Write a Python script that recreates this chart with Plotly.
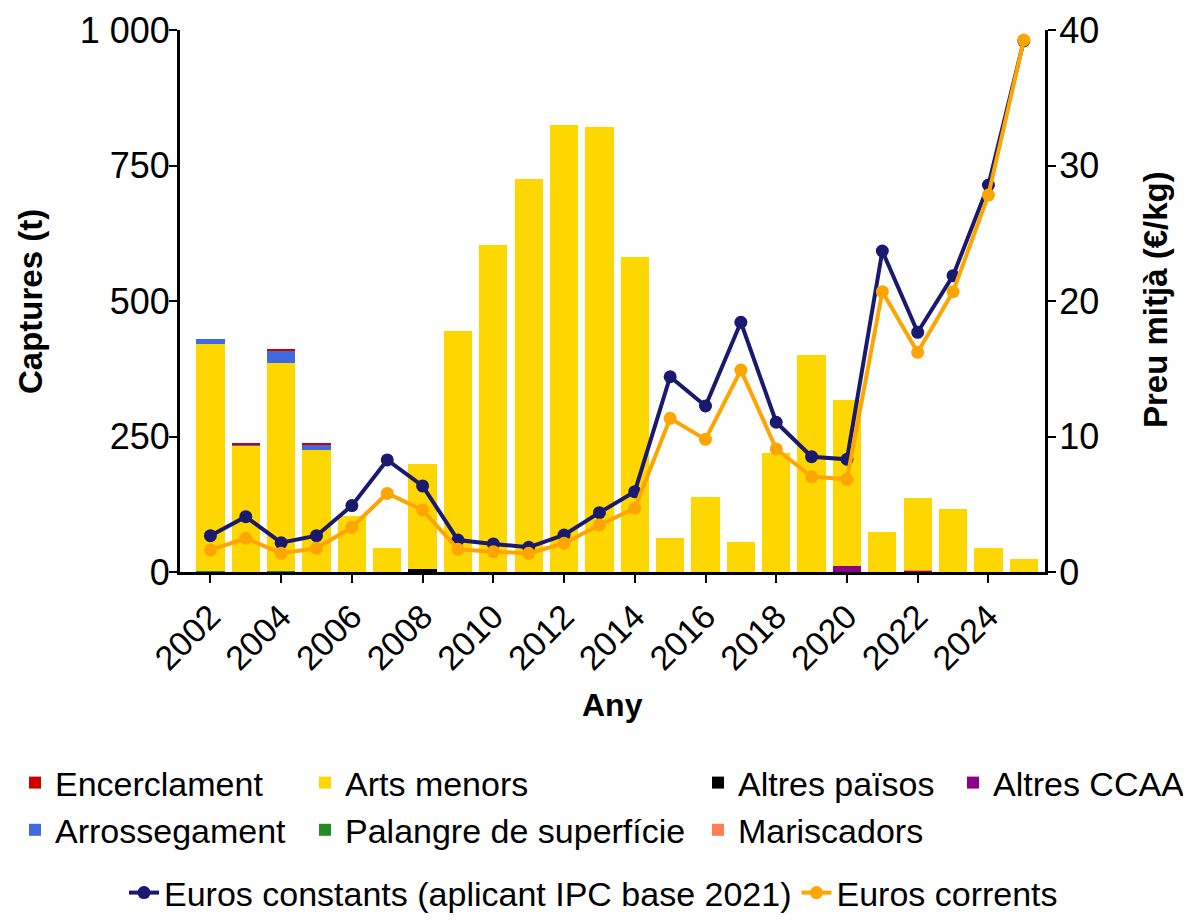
import plotly.graph_objects as go

years = list(range(2002, 2026))

encerclament = [0, 2, 4, 2, 0, 0, 0, 0, 0, 0, 0, 0, 0, 0, 0, 0, 0, 0, 0, 0, 0, 0, 0, 0]
arrossegament = [9, 3, 22, 9, 0, 0, 0, 0, 0, 0, 0, 0, 0, 0, 0, 0, 0, 0, 0, 0, 0, 0, 0, 0]
arts_menors = [419, 233, 384, 226, 103, 44, 193, 445, 603, 726, 825, 821, 581, 62, 139, 55, 220, 400, 306, 74, 133, 117, 44, 24]
palangre = [2, 0, 2, 0, 0, 0, 0, 0, 0, 0, 0, 0, 0, 0, 0, 0, 0, 0, 0, 0, 0, 0, 0, 0]
altres_paisos = [0, 0, 0, 0, 0, 0, 6, 0, 0, 0, 0, 0, 0, 0, 0, 0, 0, 0, 0, 0, 0, 0, 0, 0]
mariscadors = [0, 0, 0, 0, 0, 0, 0, 0, 0, 0, 0, 0, 0, 0, 0, 0, 0, 0, 0, 0, 1, 0, 0, 0]
altres_ccaa = [0, 0, 0, 0, 0, 0, 0, 0, 0, 0, 0, 0, 0, 0, 0, 0, 0, 0, 11, 0, 2, 0, 0, 0]

euros_constants = [2.68, 4.08, 2.16, 2.68, 4.90, 8.27, 6.35, 2.36, 2.07, 1.82, 2.73, 4.38, 5.93,
                   14.41, 12.25, 18.43, 11.05, 8.51, 8.32, 23.69, 17.69, 21.87, 28.56, 39.20]
euros_corrents = [1.62, 2.49, 1.38, 1.75, 3.30, 5.80, 4.58, 1.67, 1.50, 1.38, 2.12, 3.47, 4.70,
                  11.34, 9.79, 14.90, 9.08, 7.04, 6.84, 20.69, 16.21, 20.69, 27.82, 39.26]

x_ticks = list(range(2002, 2025, 2))
y_ticks = [0, 250, 500, 750, 1000]
y2_ticks = [0, 10, 20, 30, 40]

FONT = "Arial, Liberation Sans, sans-serif"
# page body has an 8px margin, so the figure is drawn 8px in from the window corner
W, H = 1183, 912
OFF = 8

fig = go.Figure()

# stacking order bottom -> top ; legend placement via separate legends (columns)
bar_series = [
    ("Palangre de superfície", palangre, "#228B22", "legend2", 2),
    ("Altres països", altres_paisos, "#000000", "legend3", 1),
    ("Altres CCAA", altres_ccaa, "#8B008B", "legend4", 1),
    ("Mariscadors", mariscadors, "#FF7F50", "legend3", 2),
    ("Arts menors", arts_menors, "#FFD700", "legend2", 1),
    ("Arrossegament", arrossegament, "#4169E1", "legend", 2),
    ("Encerclament", encerclament, "#CC0000", "legend", 1),
]
for name, vals, col, leg, rank in bar_series:
    fig.add_trace(go.Bar(
        x=years, y=vals, name=name, marker=dict(color=col, line=dict(width=0)),
        legend=leg, legendrank=rank, yaxis="y",
    ))

fig.add_trace(go.Scatter(
    x=years, y=euros_constants, name="Euros constants (aplicant IPC base 2021)",
    mode="lines+markers", line=dict(color="#191970", width=4),
    marker=dict(color="#191970", size=13), yaxis="y2", legend="legend5",
))
fig.add_trace(go.Scatter(
    x=years, y=euros_corrents, name="Euros corrents",
    mode="lines+markers", line=dict(color="#FFA500", width=4),
    marker=dict(color="#FFA500", size=13), yaxis="y2", legend="legend5",
))


def cx(px):
    return (px - OFF) / W


def cy(px):
    return 1 - (px - OFF) / H


def vleg(xpx, ypx):
    return dict(
        xref="container", yref="container", x=cx(xpx), y=cy(ypx),
        xanchor="left", yanchor="top", orientation="v", traceorder="normal",
        font=dict(family=FONT, size=34, color="black"),
        bgcolor="rgba(0,0,0,0)", tracegroupgap=0,
    )


axis_common = dict(
    ticks="outside", ticklen=8, tickwidth=2, tickcolor="black",
    showline=True, linewidth=3, linecolor="black", showgrid=False, zeroline=False,
    automargin=False,
)

# plot-area edges in figure pixels
L = 180 - OFF
R = 1045 - OFF
T = 30 - OFF
B = 572 - OFF


def px_(x):
    return ((x - OFF) - L) / (R - L)


def py(y):
    return (B - (y - OFF)) / (B - T)


fig.update_layout(
    width=W, height=H,
    paper_bgcolor="white", plot_bgcolor="white",
    barmode="stack", bargap=0.2,
    separators=". ",
    margin=dict(l=L, r=W - R, t=T, b=H - B, autoexpand=False),
    font=dict(family=FONT, size=32, color="black"),
    xaxis=dict(range=[2001.14, 2025.6], tickmode="array", tickvals=x_ticks, tickangle=-45,
               tickfont=dict(family=FONT, size=34, color="black"), **axis_common),
    yaxis=dict(range=[0, 1000], tickmode="array", tickvals=y_ticks, tickformat=",d",
               tickfont=dict(family=FONT, size=36, color="black"), ticklabelstandoff=-8, **axis_common),
    yaxis2=dict(range=[0, 40], overlaying="y", side="right", tickmode="array", tickvals=y2_ticks,
                tickfont=dict(family=FONT, size=36, color="black"), ticklabelstandoff=-4, **axis_common),
    legend=vleg(15, 754),
    legend2=vleg(305, 754),
    legend3=vleg(698, 754),
    legend4=vleg(953, 754),
    legend5=dict(
        xref="paper", yref="paper", x=px_(124), y=py(893),
        xanchor="left", yanchor="middle", orientation="h", traceorder="normal",
        font=dict(family=FONT, size=34, color="black"), bgcolor="rgba(0,0,0,0)",
        itemwidth=30,
    ),
    annotations=[
        dict(text="<b>Captures (t)</b>", xref="paper", yref="paper",
             x=px_(30), xanchor="center",
             y=py(302), yanchor="middle", textangle=-90, showarrow=False,
             font=dict(family=FONT, size=33, color="black")),
        dict(text="<b>Preu mitjà (€/kg)</b>", xref="paper", yref="paper",
             x=px_(1155), xanchor="center",
             y=py(300), yanchor="middle", textangle=-90, showarrow=False,
             font=dict(family=FONT, size=33, color="black")),
        dict(text="<b>Any</b>", xref="paper", yref="paper",
             x=px_(612), xanchor="center",
             y=py(705), yanchor="middle", showarrow=False,
             font=dict(family=FONT, size=32, color="black")),
    ],
)

fig.write_html("out.html")
